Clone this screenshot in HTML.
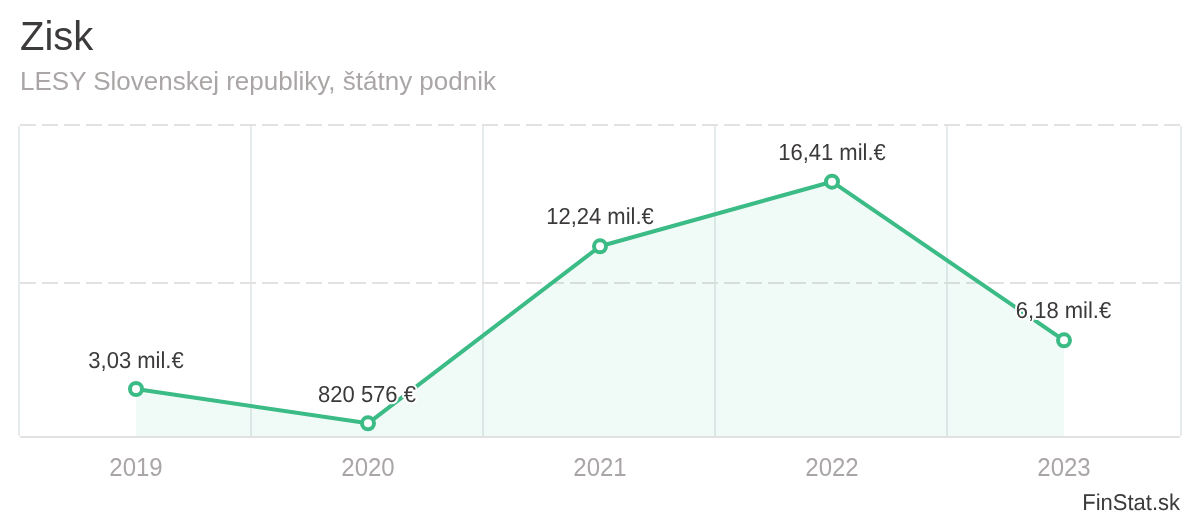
<!DOCTYPE html>
<html lang="sk">
<head>
<meta charset="utf-8">
<title>Zisk</title>
<style>
html,body{margin:0;padding:0;background:#fff;}
body{width:1200px;height:520px;overflow:hidden;}
svg{display:block;font-family:"Liberation Sans",sans-serif;}
.dl{text-rendering:geometricPrecision;font-size:22px;fill:#3c3939;text-anchor:middle;stroke:#fff;stroke-width:4px;stroke-linejoin:round;paint-order:stroke fill;}
.ax{font-size:24px;fill:#aaa6a6;text-anchor:middle;}
</style>
</head>
<body>
<svg width="1200" height="520" viewBox="0 0 1200 520">
<rect width="1200" height="520" fill="#fff"/>
<text x="20" y="50" font-size="40" fill="#3c3a3a">Zisk</text>
<text x="20" y="90" font-size="26" fill="#aaa6a6">LESY Slovenskej republiky, štátny podnik</text>
<!-- vertical grid -->
<g fill="#e6ecee">
<rect x="18" y="126" width="2" height="310"/>
<rect x="250" y="126" width="2" height="310"/>
<rect x="482" y="126" width="2" height="310"/>
<rect x="714" y="126" width="2" height="310"/>
<rect x="946" y="126" width="2" height="310"/>
<rect x="1180" y="126" width="2" height="310"/>
</g>
<!-- horizontal dashed grid -->
<g stroke="#e3e1e1" stroke-width="2" stroke-dasharray="16 6" fill="none">
<path d="M20 125H1180"/>
<path d="M20 283H1180"/>
</g>
<!-- axis line -->
<rect x="20" y="436" width="1160" height="2" fill="#e3e1e1"/>
<!-- area -->
<path d="M136 389L368 423.3L600 246.3L832 181.7L1064 340.3V436H136Z" fill="#3fbf9f" fill-opacity="0.08"/>
<path d="M136 389L368 423.3L600 246.3L832 181.7L1064 340.3" fill="none" stroke="#3bbb85" stroke-width="4" stroke-linejoin="round" stroke-linecap="round"/>
<g fill="#fff" stroke="#3bbb85" stroke-width="4">
<circle cx="136" cy="389" r="6"/>
<circle cx="368" cy="423.3" r="6"/>
<circle cx="600" cy="246.3" r="6"/>
<circle cx="832" cy="181.7" r="6"/>
<circle cx="1064" cy="340.3" r="6"/>
</g>
<g class="dl">
<text transform="translate(136 367.5) scale(1 1.05)">3,03 mil.€</text>
<text transform="translate(367 401.9) scale(1 1.05)">820 576 €</text>
<text transform="translate(600 223.5) scale(1 1.05)">12,24 mil.€</text>
<text transform="translate(832 160) scale(1 1.05)">16,41 mil.€</text>
<text transform="translate(1063.5 317.5) scale(1 1.05)">6,18 mil.€</text>
</g>
<g class="ax">
<text transform="translate(136 476) scale(1 1.06)">2019</text>
<text transform="translate(368 476) scale(1 1.06)">2020</text>
<text transform="translate(600 476) scale(1 1.06)">2021</text>
<text transform="translate(832 476) scale(1 1.06)">2022</text>
<text transform="translate(1064 476) scale(1 1.06)">2023</text>
</g>
<text transform="translate(1180 509.6) scale(1 1.04)" font-size="22" fill="#3c3a3a" text-anchor="end" style="text-rendering:geometricPrecision">FinStat.sk</text>
</svg>
</body>
</html>
